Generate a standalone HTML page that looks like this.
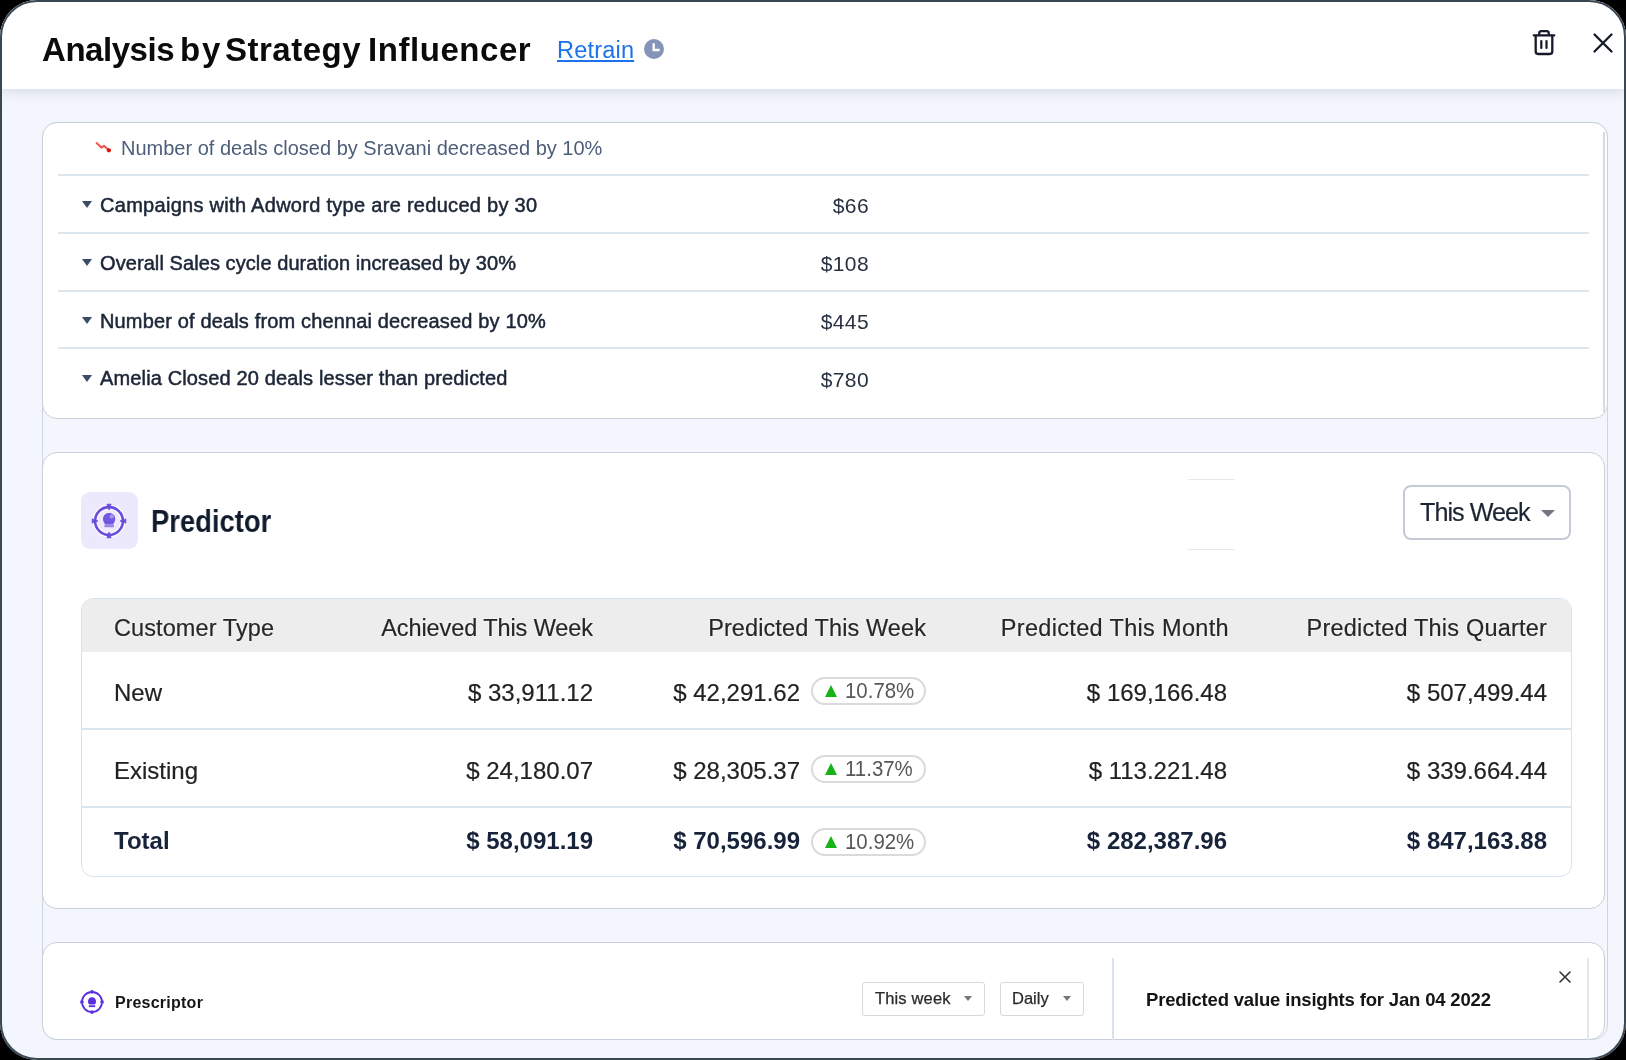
<!DOCTYPE html>
<html><head><meta charset="utf-8">
<style>
*{box-sizing:border-box;margin:0;padding:0}
html,body{width:1626px;height:1060px;overflow:hidden;background:#000;font-family:"Liberation Sans",sans-serif}
.frame{position:absolute;left:0;top:0;width:1626px;height:1060px;border-radius:37px;overflow:hidden;background:#f3f6fc}
.bord{position:absolute;left:0;top:0;width:1626px;height:1060px;border:2px solid #3a4853;border-radius:37px;pointer-events:none}
.abs{position:absolute}
.frame div{will-change:transform}
.hdr{position:absolute;left:0;top:0;width:1626px;height:89px;background:#fff;box-shadow:0 2px 12px rgba(150,160,185,0.35)}
.title{position:absolute;left:41.5px;top:30.5px;font-size:33px;font-weight:700;color:#0b0b0d;white-space:nowrap;letter-spacing:-0.1px}
.retrain{position:absolute;left:556.5px;top:37px;font-size:23.5px;letter-spacing:0.2px;color:#1a73e8;text-decoration:underline;text-underline-offset:2px;text-decoration-thickness:2px;white-space:nowrap}
.vline{position:absolute;width:1.5px;background:#cfd5de}
.card{position:absolute;background:#fff;border:1.5px solid #c7cfda;border-radius:15px}
.sep{position:absolute;height:2px;background:#dde6ef}
.t20{position:absolute;font-size:20px;white-space:nowrap}
.row{position:absolute;left:100px;font-size:20px;font-weight:400;-webkit-text-stroke:0.5px #1c2637;color:#1c2637;white-space:nowrap;letter-spacing:0.2px}
.val{position:absolute;font-size:21px;letter-spacing:0.4px;color:#283142;white-space:nowrap;text-align:right;width:100px}
.tri{position:absolute;width:0;height:0;border-left:5.5px solid transparent;border-right:5.5px solid transparent;border-top:7px solid #3d4c66}
.th{position:absolute;font-size:23.5px;color:#262626;white-space:nowrap;-webkit-text-stroke:0.2px #262626;text-shadow:0 0 1.5px #fff,0 0 1.5px #fff}
.td{position:absolute;font-size:24px;color:#222;white-space:nowrap;-webkit-text-stroke:0.2px #222}
.tb{position:absolute;font-size:24px;color:#16233a;font-weight:700;white-space:nowrap}
.r{text-align:right}
.pill{position:absolute;width:115px;height:28px;border:2px solid #dadada;border-radius:14px;background:#fff}
.pill .gt{position:absolute;left:11.6px;top:5.8px;width:0;height:0;border-left:6.2px solid transparent;border-right:6.2px solid transparent;border-bottom:12px solid #17b217}
.pill span{position:absolute;left:31.5px;top:0px;font-size:21.5px;color:#575757;white-space:nowrap;transform:scaleX(0.95);transform-origin:0 0}
</style></head><body>
<div class="frame">
  <!-- body -->
  <div class="abs" style="left:42px;top:122px;width:1566px;height:918px;border:1.5px solid #cfd5de;border-radius:15px"></div>

  <!-- card 1 -->
  <div class="card" style="left:42px;top:122px;width:1566px;height:297px"></div>
  <div class="vline" style="left:1603px;top:132px;height:280px;background:#d6dbe2"></div>
  <svg class="abs" style="left:94px;top:140px" width="20" height="14" viewBox="0 0 20 14"><path d="M2.6 3.1 L7.4 7.6 L9.9 5.8 L14.6 10.1" fill="none" stroke="#f2554f" stroke-width="2" stroke-linejoin="round" stroke-linecap="round"/><circle cx="14.9" cy="10.3" r="2.1" fill="#e80a0a"/></svg>
  <div class="t20" style="left:121px;top:137px;color:#4d5d7a">Number of deals closed by Sravani decreased by 10%</div>
  <div class="sep" style="left:58px;top:174px;width:1531px"></div>

  <div class="tri" style="left:81.5px;top:201px"></div>
  <div class="row" style="top:194px;letter-spacing:0.29px">Campaigns with Adword type are reduced by 30</div>
  <div class="val" style="left:769px;top:194px">$66</div>
  <div class="sep" style="left:58px;top:232px;width:1531px"></div>

  <div class="tri" style="left:81.5px;top:259px"></div>
  <div class="row" style="top:252px;letter-spacing:0.08px">Overall Sales cycle duration increased by 30%</div>
  <div class="val" style="left:769px;top:252px">$108</div>
  <div class="sep" style="left:58px;top:289.6px;width:1531px"></div>

  <div class="tri" style="left:81.5px;top:317px"></div>
  <div class="row" style="top:310px;letter-spacing:0.15px">Number of deals from chennai decreased by 10%</div>
  <div class="val" style="left:769px;top:310px">$445</div>
  <div class="sep" style="left:58px;top:347.4px;width:1531px"></div>

  <div class="tri" style="left:81.5px;top:375px"></div>
  <div class="row" style="top:367px;letter-spacing:0.14px">Amelia Closed 20 deals lesser than predicted</div>
  <div class="val" style="left:769px;top:368px">$780</div>

  <!-- card 2 -->
  <div class="card" style="left:42px;top:452px;width:1563px;height:457px"></div>
  <div class="abs" style="left:81px;top:492px;width:57px;height:57px;border-radius:9px;background:#ece9fd"></div>
  <svg class="abs" style="left:91px;top:503px" width="36" height="36" viewBox="0 0 36 36">
    <circle cx="18" cy="18" r="13.9" fill="none" stroke="#fbfaff" stroke-width="5.2"/>
    <circle cx="18" cy="18" r="13.9" fill="none" stroke="#6a4ddc" stroke-width="2.6"/>
    <path d="M15.9 1.2 L20.1 1.2 L18 7Z M15.9 34.8 L20.1 34.8 L18 29Z M1.2 15.9 L1.2 20.1 L7 18Z M34.8 15.9 L34.8 20.1 L29 18Z" fill="#6a4ddc" stroke="#6a4ddc" stroke-width="0.8" stroke-linejoin="round"/>
    <path d="M12 16 C12 12.4 14.6 10 18.1 10 C21.6 10 24.2 12.4 24.2 16 C24.2 18.2 23.2 20.1 21.8 21.4 L14.4 21.4 C13 20.1 12 18.2 12 16Z" fill="#7157e0"/>
    <circle cx="20.6" cy="13.6" r="2.1" fill="#a797ef"/>
    <rect x="13.4" y="21.6" width="9.6" height="2.7" rx="0.4" fill="#9a86ea"/>
  </svg>
  <div class="abs" style="left:151px;top:503px;font-size:31.5px;font-weight:700;color:#101c2e;transform:scaleX(0.87);transform-origin:0 0;white-space:nowrap">Predictor</div>

  <div class="abs" style="left:1188px;top:479px;width:47px;height:1px;background:#e9e9e9"></div>
  <div class="abs" style="left:1188px;top:549px;width:47px;height:1px;background:#e9e9e9"></div>

  <div class="abs" style="left:1403px;top:485px;width:168px;height:55px;border:2px solid #c4cbd4;border-radius:8px;background:#fff"></div>
  <div class="abs" style="left:1419.5px;top:497.5px;font-size:25.2px;color:#1b2433;letter-spacing:-0.98px;-webkit-text-stroke:0.2px #1b2433;white-space:nowrap">This Week</div>
  <div class="abs" style="left:1541px;top:509.5px;width:0;height:0;border-left:7px solid transparent;border-right:7px solid transparent;border-top:7.5px solid #70757e"></div>

  <!-- table -->
  <div class="abs" style="left:81px;top:597.5px;width:1491px;height:278.5px;border:1.5px solid #d6e3ee;border-radius:12px;overflow:hidden;background:#fff">
    <div class="abs" style="left:0;top:0;width:1490px;height:53px;background:#ededed"></div>
    <div class="abs" style="left:0;top:129.3px;width:1490px;height:1.5px;background:#dbe5ee"></div>
    <div class="abs" style="left:0;top:207.3px;width:1490px;height:1.5px;background:#dbe5ee"></div>
  </div>
  <div class="th" style="left:114px;top:615px;letter-spacing:0.09px">Customer Type</div>
  <div class="th r" style="left:292px;top:615px;width:301px;letter-spacing:-0.09px">Achieved This Week</div>
  <div class="th r" style="left:625px;top:615px;width:301px;letter-spacing:0.1px">Predicted This Week</div>
  <div class="th r" style="left:927.5px;top:615px;width:301px;letter-spacing:0.33px">Predicted This Month</div>
  <div class="th r" style="left:1246px;top:615px;width:301px;letter-spacing:0.2px">Predicted This Quarter</div>

  <div class="td" style="left:114px;top:679px">New</div>
  <div class="td r" style="left:393px;top:679px;width:200px">$ 33,911.12</div>
  <div class="td r" style="left:600px;top:679px;width:200px">$ 42,291.62</div>
  <div class="pill" style="left:811px;top:677px"><i class="gt"></i><span>10.78%</span></div>
  <div class="td r" style="left:1027px;top:679px;width:200px">$ 169,166.48</div>
  <div class="td r" style="left:1347px;top:679px;width:200px">$ 507,499.44</div>

  <div class="td" style="left:114px;top:757px">Existing</div>
  <div class="td r" style="left:393px;top:757px;width:200px">$ 24,180.07</div>
  <div class="td r" style="left:600px;top:757px;width:200px">$ 28,305.37</div>
  <div class="pill" style="left:811px;top:754.5px"><i class="gt"></i><span>11.37%</span></div>
  <div class="td r" style="left:1027px;top:757px;width:200px">$ 113.221.48</div>
  <div class="td r" style="left:1347px;top:757px;width:200px">$ 339.664.44</div>

  <div class="tb" style="left:114px;top:826.5px">Total</div>
  <div class="tb r" style="left:393px;top:826.5px;width:200px">$ 58,091.19</div>
  <div class="tb r" style="left:600px;top:826.5px;width:200px">$ 70,596.99</div>
  <div class="pill" style="left:811px;top:827.5px"><i class="gt"></i><span>10.92%</span></div>
  <div class="tb r" style="left:1027px;top:826.5px;width:200px">$ 282,387.96</div>
  <div class="tb r" style="left:1347px;top:826.5px;width:200px">$ 847,163.88</div>

  <!-- card 3 -->
  <div class="card" style="left:42px;top:941.5px;width:1563px;height:98px"></div>
  <svg class="abs" style="left:78.7px;top:989.4px" width="26" height="26" viewBox="0 0 26 26">
    <circle cx="13" cy="13" r="10" fill="none" stroke="#5a2fe0" stroke-width="1.8"/>
    <path d="M11.8 1.6 L14.2 1.6 L13 4.8Z M11.8 24.4 L14.2 24.4 L13 21.2Z M1.6 11.8 L1.6 14.2 L4.8 13Z M24.4 11.8 L24.4 14.2 L21.2 13Z" fill="#5a2fe0" stroke="#5a2fe0" stroke-width="0.6" stroke-linejoin="round"/>
    <path d="M9 12.5 C9 9.8 10.8 8.3 13 8.3 C15.2 8.3 17 9.8 17 12.5 C17 14 16.3 15 15.6 15.6 L10.4 15.6 C9.7 15 9 14 9 12.5Z" fill="#5a2fe0"/>
    <rect x="9.8" y="16.3" width="6.4" height="1.8" fill="#5a2fe0"/>
  </svg>
  <div class="abs" style="left:115px;top:993.5px;font-size:16px;font-weight:700;color:#161616;letter-spacing:0.25px;white-space:nowrap">Prescriptor</div>

  <div class="abs" style="left:862px;top:981.5px;width:122.5px;height:34px;border:1.5px solid #d8d8d8;border-radius:3px;background:#fff"></div>
  <div class="abs" style="left:874.5px;top:988.5px;font-size:16.5px;color:#2a2a2a;letter-spacing:0.15px;-webkit-text-stroke:0.25px #2a2a2a;white-space:nowrap">This week</div>
  <div class="abs" style="left:963.5px;top:996px;width:0;height:0;border-left:4.5px solid transparent;border-right:4.5px solid transparent;border-top:5px solid #777"></div>
  <div class="abs" style="left:1000px;top:981.5px;width:83.5px;height:34px;border:1.5px solid #d8d8d8;border-radius:3px;background:#fff"></div>
  <div class="abs" style="left:1012px;top:988.5px;font-size:16.5px;color:#2a2a2a;-webkit-text-stroke:0.25px #2a2a2a;white-space:nowrap">Daily</div>
  <div class="abs" style="left:1062.5px;top:996px;width:0;height:0;border-left:4.5px solid transparent;border-right:4.5px solid transparent;border-top:5px solid #777"></div>

  <div class="abs" style="left:1111.5px;top:958px;width:1.5px;height:82px;background:#d9e3ee"></div>
  <div class="abs" style="left:1587px;top:958px;width:1.5px;height:82px;background:#e4e8ee"></div>
  <div class="abs" style="left:1146px;top:989px;font-size:18.5px;font-weight:700;color:#151515;letter-spacing:-0.17px;white-space:nowrap">Predicted value insights for Jan 04 2022</div>
  <svg class="abs" style="left:1559px;top:971px" width="12" height="12" viewBox="0 0 12 12"><path d="M1 1 L11 11 M11 1 L1 11" stroke="#333" stroke-width="1.6" stroke-linecap="round"/></svg>

  <!-- header -->
  <div class="hdr"></div>
  <div class="title" style="left:41.5px;letter-spacing:-0.45px">Analysis</div>
  <div class="title" style="left:179.6px;letter-spacing:1.8px">by</div>
  <div class="title" style="left:225px;letter-spacing:0.5px">Strategy</div>
  <div class="title" style="left:367.5px;letter-spacing:0.55px">Influencer</div>
  <div class="retrain">Retrain</div>
  <svg class="abs" style="left:643px;top:38px" width="22" height="22" viewBox="0 0 22 22"><circle cx="11" cy="11" r="10" fill="#8593b9"/><path d="M10.7 5.2 V12 H16.6" fill="none" stroke="#fff" stroke-width="2.4"/></svg>
  <svg class="abs" style="left:1531px;top:28px" width="26" height="30" viewBox="0 0 26 30">
    <path d="M2.8 7.4 H23.2" stroke="#141a2a" stroke-width="2.3" stroke-linecap="round"/>
    <path d="M8.2 7.4 V5.2 C8.2 3.6 9.2 3.1 10.6 3.1 H15.4 C16.8 3.1 17.8 3.6 17.8 5.2 V7.4" fill="none" stroke="#141a2a" stroke-width="2.2"/>
    <path d="M4.7 7.4 V23.6 C4.7 25.3 5.6 26 7.2 26 H18.8 C20.4 26 21.3 25.3 21.3 23.6 V7.4" fill="none" stroke="#141a2a" stroke-width="2.3"/>
    <path d="M10.3 13 V20 M15.5 13 V20" stroke="#141a2a" stroke-width="2.2" stroke-linecap="round"/>
  </svg>
  <svg class="abs" style="left:1591px;top:31px" width="24" height="24" viewBox="0 0 24 24"><path d="M3.5 3.5 L20.5 20.5 M20.5 3.5 L3.5 20.5" stroke="#141a2a" stroke-width="2.3" stroke-linecap="round"/></svg>
</div>
<div class="bord"></div>
</body></html>
